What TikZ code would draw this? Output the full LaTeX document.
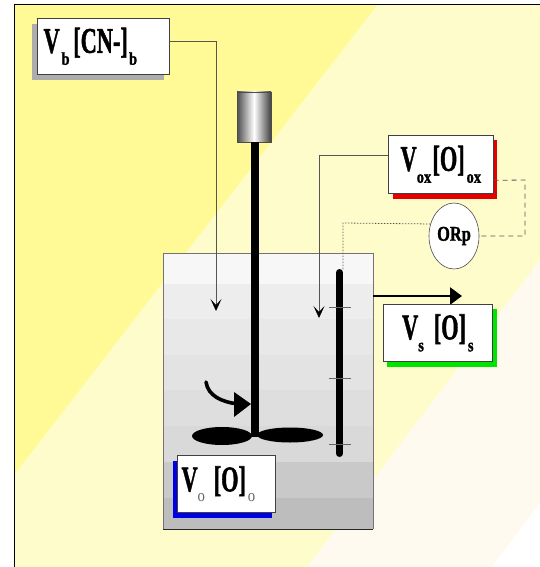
\documentclass[tikz,border=0pt]{standalone}
\usepackage{fontspec}
\setmainfont[BoldFeatures={FakeBold=1.6}]{Liberation Serif}
\usetikzlibrary{arrows.meta,shapes.geometric}
\definecolor{bgA}{HTML}{FFFA96}
\definecolor{bgB}{HTML}{FFFCCB}
\definecolor{bgC}{HTML}{FFFAF0}
\definecolor{lineC}{HTML}{555555}
\newcommand{\bigt}[1]{{\fontsize{36}{36}\selectfont\bfseries #1}}
\newcommand{\subt}[1]{\raisebox{-12pt}{\scalebox{1.3}[1]{\fontsize{18}{18}\selectfont\bfseries #1}}}
\newcommand{\subo}{\raisebox{-10pt}{\scalebox{1.4}[1]{\fontsize{17}{17}\selectfont\color{black!60}o}}}
\newcommand{\squeeze}[1]{\scalebox{0.62}[1]{#1}}
\tikzset{
  labelbox/.style={draw=black!75,line width=0.7pt,fill=white,inner sep=0pt,anchor=north west,text=black},
  conn/.style={draw=lineC,line width=0.8pt},
  openarrow/.style={-{Stealth[length=12pt,width=11pt,inset=6pt,color=black]}},
  impeller/.style={ellipse,fill=black,inner sep=0pt},
}
\begin{document}
\begin{tikzpicture}[x=1pt,y=-1pt]
\useasboundingbox (0,0) rectangle (540,567);
% background bands
\fill[white] (0,0) rectangle (540,567);
\fill[bgC] (14,4) rectangle (540,567);
\fill[white] (540,503) -- (540,567) -- (492,567) -- cycle;
\fill[bgB] (14,4) -- (540,4) -- (540,260) -- (307,567) -- (14,567) -- cycle;
\fill[bgA] (14,4) -- (378,4) -- (14,475) -- cycle;
\draw[black,line width=0.8pt] (14.5,567) -- (14.5,4.5) -- (540,4.5);
% tank
\fill[black!3] (163,253) rectangle (373,284);
\fill[black!7] (163,284) rectangle (373,319);
\fill[black!9] (163,319) rectangle (373,355);
\fill[black!11] (163,355) rectangle (373,390);
\fill[black!13] (163,390) rectangle (373,426);
\fill[black!15] (163,426) rectangle (373,462);
\fill[black!21] (163,462) rectangle (373,498);
\fill[black!26] (163,498) rectangle (373,529);
\draw[black!55,line width=0.8pt] (163,529) -- (163,253) -- (373,253) -- (373,529);
\draw[black!85,line width=0.8pt] (163,529) -- (373,529);
% motor
\shade[left color=black!70,right color=black!75,middle color=white,draw=none] (237,92) rectangle (271,142);
\draw[black!70,line width=0.6pt] (237,92) rectangle (271,142);
% stirrer
\fill[black] (250.5,142) rectangle (259,437);
\node[impeller,minimum width=60pt,minimum height=18pt] (impL) at (222,436) {};
\node[impeller,minimum width=66pt,minimum height=15pt] (impR) at (290,435) {};
\coordinate (swirlS) at (206,382);
\coordinate (swirlE) at (238,404);
\draw[black,line width=3.6pt,line cap=round] (swirlS) .. controls (208,396) and (222,402) .. (swirlE);
\fill[black] (234,392) -- (251,404) -- (234,417) -- cycle;
% electrode
\draw[black,line width=7pt,line cap=round] (339.5,272.5) -- (339.5,453.5);
\foreach \yy in {307,378,444} \draw[black!60,line width=0.8pt] (329,\yy) -- (351,\yy);
% outflow
\coordinate (outA) at (373,296);
\coordinate (outB) at (462,296);
\draw[black,line width=2.6pt,-{Triangle[length=12pt,width=17pt]}] (outA) -- (outB);
% shadows
\fill[black!32] (32,24) rectangle (164,80);
\fill[red!90!black] (393,140) rectangle (497,199);
\fill[green!90!black] (387,309) rectangle (497,367);
\fill[blue!90!black] (173,461) rectangle (272,518);
% label boxes
\node[labelbox,minimum width=132pt,minimum height=56pt] (vb) at (36.5,18) {\squeeze{\bigt{V}\hspace{3pt}\subt{b}\hspace{6pt}\bigt{[CN-]}\hspace{2pt}\subt{b}}\kern25pt};
\node[labelbox,minimum width=105pt,minimum height=58pt] (vox) at (388,135) {\squeeze{\bigt{V}\subt{ox}\hspace{2pt}\bigt{[O]}\hspace{3pt}\subt{ox}}};
\node[labelbox,minimum width=109pt,minimum height=57pt] (vs) at (383,304) {\squeeze{\bigt{V}\subt{s}\hspace{16pt}\bigt{[O]}\hspace{3pt}\subt{s}}};
\node[labelbox,minimum width=98pt,minimum height=57pt] (v0) at (177,455) {\squeeze{\bigt{V}\subo\hspace{14pt}\bigt{[O]}\hspace{3pt}\subo}\kern16pt};
\node[ellipse,draw=black!70,line width=0.6pt,fill=white,inner sep=0pt,minimum width=50pt,minimum height=66pt,text=black] (orp) at (454,236) {\scalebox{0.78}[1]{\fontsize{21}{21}\selectfont\bfseries ORp}};
% connectors
\coordinate (vbEnd) at (216,311);
\coordinate (voxEnd) at (319,318);
\coordinate (dashC) at (525,180);
\coordinate (dotC) at (343,223);
\coordinate (elecTop) at (343,269);
\draw[conn,openarrow] ([yshift=5pt]vb.east) -| (vbEnd);
\draw[conn,openarrow] ([yshift=9pt]vox.west) -| (voxEnd);
\draw[lineC,line width=0.8pt,dash pattern=on 5pt off 4pt] ([yshift=-16pt]vox.east) -- (dashC) |- (orp.east);
\draw[lineC,line width=0.8pt,dash pattern=on 1.5pt off 1.5pt] (orp.153) -- (dotC) -- (elecTop);
\end{tikzpicture}
\end{document}
